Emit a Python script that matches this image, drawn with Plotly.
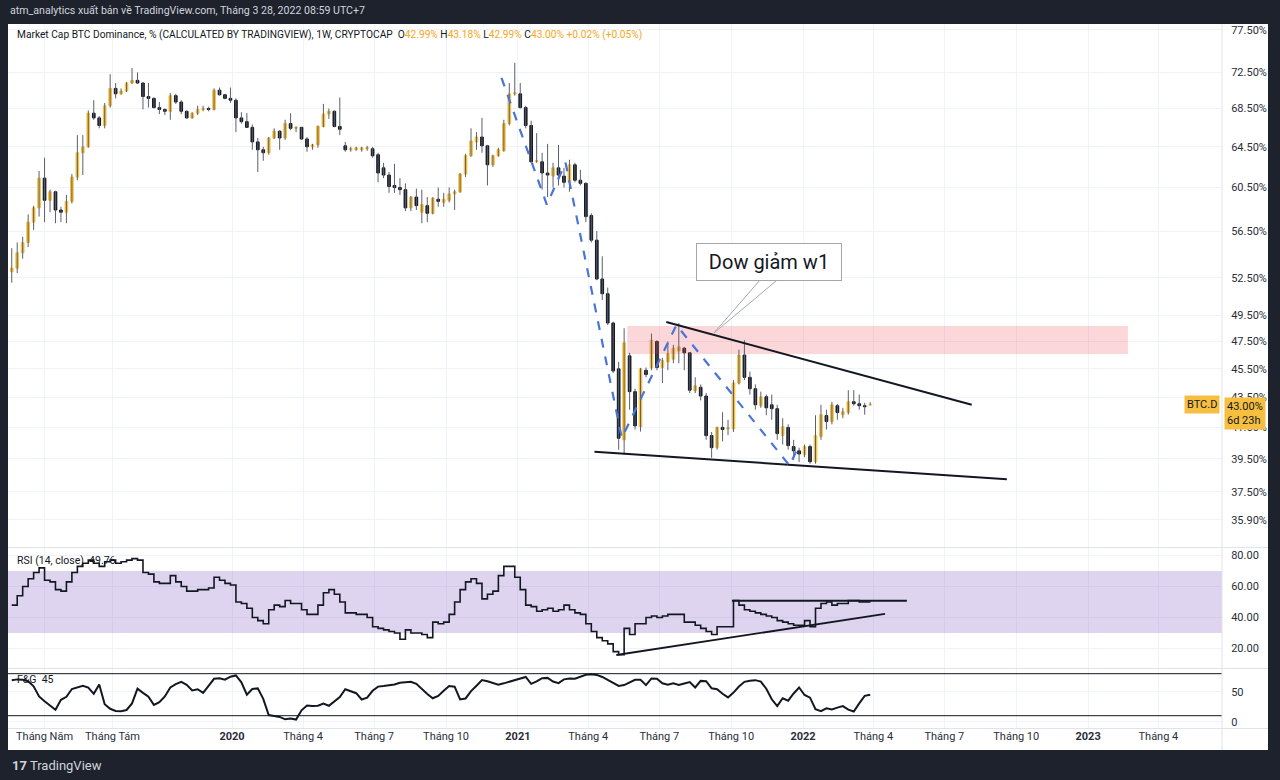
import math
import pandas as pd
import plotly.graph_objects as go
from plotly.subplots import make_subplots

# ---------------- data (weekly BTC.D candles) ----------------
first_week = "2019-03-25"

open_ = [53.0, 53.3, 54.6, 55.5, 57.3, 58.6, 61.4, 59.3, 60.1, 58.4,
         58.2, 59.2, 61.5, 63.9, 64.5, 68.0, 67.5, 66.7, 68.8, 70.7,
         70.1, 70.4, 71.3, 71.6, 71.3, 69.8, 69.6, 68.6, 68.4, 68.2,
         69.9, 69.2, 68.2, 67.5, 68.0, 68.4, 68.5, 68.4, 70.5, 70.0,
         69.6, 69.4, 67.5, 67.1, 66.5, 65.0, 64.2, 63.9, 65.4, 66.1,
         65.4, 66.9, 66.4, 66.5, 65.3, 64.5, 64.7, 66.6, 67.9, 68.2,
         66.6, 64.6, 64.2, 64.2, 64.2, 64.3, 64.3, 63.7, 62.4, 61.7,
         60.7, 60.5, 60.3, 58.6, 59.6, 58.2, 58.8, 58.1, 59.4, 59.1,
         59.3, 59.9, 60.1, 61.8, 63.6, 65.0, 65.5, 64.6, 62.7, 63.6,
         64.1, 66.9, 70.1, 70.1, 68.6, 66.7, 63.0, 63.0, 61.9, 61.6,
         62.4, 61.6, 61.0, 62.7, 61.2, 60.9, 57.9, 55.7, 52.4, 51.2,
         48.9, 45.5, 40.7, 46.44, 43.9, 41.55, 45.4, 45.57, 47.5, 45.6,
         46.0, 46.2, 46.8, 47.0, 46.66, 43.96, 44.2, 43.6, 40.97, 40.2,
         41.5, 41.4, 41.4, 44.5, 46.5, 44.9, 44.1, 42.94, 43.55, 43.0,
         42.74, 40.97, 41.5, 40.27, 40.0, 39.76, 40.27, 39.32, 40.91, 42.28,
         41.88, 42.94, 42.34, 42.48, 43.21, 43.07, 42.94, 42.99]

high = [55.0, 55.5, 56.0, 58.0, 58.8, 62.1, 63.4, 60.3, 60.2, 58.7,
        59.8, 61.8, 65.7, 65.7, 68.3, 69.4, 67.7, 69.1, 72.3, 71.3,
        70.7, 71.4, 73.0, 72.5, 71.4, 71.3, 69.7, 69.2, 68.5, 70.2,
        70.1, 69.4, 68.3, 68.1, 68.8, 68.8, 68.7, 70.7, 70.8, 70.1,
        70.8, 69.6, 68.1, 68.0, 66.8, 65.4, 64.5, 65.5, 66.4, 66.2,
        67.3, 68.0, 66.6, 66.5, 65.5, 64.8, 66.7, 69.0, 68.5, 68.3,
        69.7, 65.0, 64.5, 64.5, 64.5, 64.6, 64.5, 63.9, 62.9, 62.0,
        62.8, 61.4, 60.9, 59.7, 60.4, 60.3, 59.6, 59.6, 60.5, 60.0,
        60.5, 60.3, 61.9, 63.8, 66.4, 66.0, 67.5, 64.7, 63.7, 64.4,
        67.3, 71.3, 73.6, 71.3, 68.8, 67.2, 65.9, 63.9, 64.8, 62.9,
        64.7, 62.4, 63.2, 62.9, 62.2, 61.0, 58.1, 56.5, 54.3, 51.7,
        49.0, 46.0, 48.5, 46.66, 44.1, 45.57, 45.6, 48.1, 47.6, 46.3,
        47.5, 47.25, 48.9, 47.1, 46.7, 44.9, 44.4, 43.8, 41.2, 41.55,
        42.5, 42.0, 44.7, 46.9, 47.6, 45.3, 44.4, 43.9, 43.7, 43.7,
        43.0, 42.1, 41.7, 40.7, 40.2, 40.4, 40.4, 42.3, 43.0, 42.67,
        43.2, 43.07, 42.8, 44.0, 44.0, 43.7, 43.14, 43.18]

low = [52.1, 52.9, 54.1, 55.1, 56.6, 57.8, 57.3, 58.2, 57.2, 57.3,
       57.2, 59.0, 61.2, 61.7, 64.4, 67.3, 66.4, 66.4, 68.6, 69.6,
       70.0, 70.3, 71.2, 71.2, 68.4, 68.6, 68.5, 67.9, 67.8, 67.3,
       69.0, 67.9, 67.4, 67.4, 67.8, 68.2, 68.2, 68.3, 69.9, 69.5,
       69.1, 66.0, 66.9, 66.5, 64.2, 62.0, 63.1, 63.7, 65.3, 64.2,
       65.2, 66.2, 66.0, 65.2, 64.0, 64.2, 64.4, 66.5, 67.4, 66.5,
       65.7, 64.0, 64.0, 64.1, 64.0, 64.1, 63.4, 61.0, 61.4, 60.0,
       60.0, 59.8, 58.3, 58.3, 58.4, 57.2, 57.3, 58.0, 58.7, 58.7,
       59.1, 58.4, 60.0, 61.5, 63.5, 64.2, 63.9, 60.7, 62.5, 63.5,
       64.0, 66.7, 69.9, 68.5, 66.4, 62.9, 62.9, 60.3, 59.6, 60.5,
       60.7, 60.5, 60.1, 61.0, 60.7, 57.3, 55.5, 52.3, 50.7, 48.75,
       45.2, 40.07, 39.76, 42.67, 41.36, 41.23, 44.9, 45.4, 45.4, 44.5,
       45.4, 45.9, 45.9, 45.4, 43.8, 43.8, 43.3, 40.7, 39.57, 40.07,
       40.6, 41.0, 41.2, 44.4, 44.7, 43.7, 42.67, 42.8, 42.3, 42.0,
       40.7, 40.4, 40.07, 39.45, 39.3, 39.6, 39.2, 39.2, 40.7, 41.36,
       41.7, 42.0, 42.1, 42.34, 42.94, 42.67, 42.34, 42.99]

close = [53.3, 54.6, 55.5, 57.3, 58.6, 61.4, 59.3, 60.1, 58.4, 58.2,
         59.2, 61.5, 63.9, 64.5, 68.0, 67.5, 66.7, 68.8, 70.7, 70.1,
         70.4, 71.3, 71.6, 71.3, 69.8, 69.6, 68.6, 68.4, 68.2, 69.9,
         69.2, 68.2, 67.5, 68.0, 68.4, 68.5, 68.4, 70.5, 70.0, 69.6,
         69.4, 67.5, 67.1, 66.5, 65.0, 64.2, 63.9, 65.4, 66.1, 65.4,
         66.9, 66.4, 66.5, 65.3, 64.5, 64.7, 66.6, 67.9, 68.2, 66.6,
         66.3, 64.2, 64.3, 64.4, 64.4, 64.4, 63.6, 61.9, 61.7, 60.6,
         60.5, 60.3, 58.6, 59.6, 58.8, 58.9, 58.1, 59.5, 59.2, 59.4,
         59.9, 60.1, 61.8, 63.6, 65.1, 65.5, 64.6, 62.7, 63.6, 64.2,
         66.9, 70.1, 70.2, 68.6, 66.7, 63.0, 63.1, 61.9, 61.7, 62.4,
         61.7, 61.0, 62.7, 61.2, 60.9, 57.8, 55.7, 52.4, 51.2, 48.9,
         45.35, 40.8, 47.4, 43.9, 41.6, 45.5, 45.1, 47.6, 45.6, 46.1,
         46.6, 47.0, 47.1, 46.66, 44.0, 44.3, 43.6, 40.97, 40.2, 41.5,
         41.36, 41.45, 44.5, 46.5, 44.9, 44.1, 43.0, 43.55, 42.8, 42.74,
         41.1, 41.55, 40.33, 40.0, 39.8, 40.27, 39.32, 40.97, 42.34, 41.88,
         43.0, 42.48, 42.54, 43.21, 43.07, 42.94, 42.88, 43.00]

rsi = [48, 54, 60, 65, 69, 72, 64, 63, 58, 57,
       63, 69, 73, 75, 77, 75, 73, 76, 77, 75,
       76, 77, 78, 77, 69, 68, 63, 62, 62, 67,
       63, 60, 57, 57, 58, 58, 59, 66, 64, 62,
       61, 50, 49, 46, 40, 38, 36, 45, 48, 47,
       51, 49, 49, 45, 42, 42, 48, 56, 58, 55,
       50, 43, 43, 42, 42, 40, 34, 33, 32, 31,
       30, 26, 32, 30, 30, 29, 27, 37, 36, 37,
       42, 50, 58, 63, 65, 62, 52, 55, 57, 67,
       73, 73, 66, 58, 48, 47, 44, 45, 46, 44,
       45, 48, 45, 43, 42, 36, 31, 27, 25, 23,
       18, 16, 33, 29, 36, 36, 40, 41, 40, 41,
       42, 42, 42, 37, 37, 35, 33, 31, 29, 34,
       34, 34, 51, 48, 45, 44, 43, 42, 41, 40,
       38, 37, 36, 35, 35, 38, 34, 46, 49, 50,
       48, 49, 49, 51, 51, 50, 50, 49.76]

fear_greed = [69, 70.5, 70, 67.5, 59, 42, 34, 27, 20, 36.5,
              41.5, 54.5, 57.5, 60, 57, 46.5, 62, 29, 21.5, 18,
              17.5, 19.5, 30.5, 55, 48, 41.7, 28, 32.5, 42, 57,
              62.5, 66.5, 61.5, 52, 54, 48, 59.5, 71.5, 72.5, 70,
              75, 77, 65.5, 45, 54.5, 55.5, 38, 11, 9.5, 8,
              4, 5.5, 3.5, 19, 27, 26, 26.5, 30, 26.5, 33,
              41, 54, 50.5, 47.5, 37, 40, 51.5, 58.5, 59.5, 60.5,
              62, 65, 65.8, 66.5, 63, 54, 46, 39, 43, 51.5,
              59.5, 58.3, 37, 38.7, 51, 60, 69.3, 67.5, 64, 61.8,
              63.9, 66.5, 69, 72, 74.5, 63, 67, 72.5, 73, 67,
              64.3, 70.5, 72, 71.5, 75.3, 78.2, 78.9, 78, 74.5, 70,
              65, 59.7, 61, 65.5, 69.8, 70, 61, 72, 71.5, 64,
              61.5, 63.8, 61.2, 63.7, 66, 57, 68, 67.5, 55.6, 54.2,
              46.5, 40.5, 48.5, 58.7, 66.4, 68.3, 69.2, 66.7, 55, 37.3,
              26, 39, 35, 47, 57, 44.5, 40, 21, 17.5, 22.2,
              20.4, 23.5, 26, 20, 17, 30.6, 43, 45]

# drawings on the chart
zone_x = ["2021-05-21", "2023-02-21"]
zone_y = [46.58, 48.67]
resist_x = ["2021-07-10", "2022-08-05"]
resist_y = [48.97, 43.0]
support_x = ["2021-04-09", "2022-09-19"]
support_y = [39.94, 38.26]
wave_x = ["2020-12-11", "2021-02-07", "2021-03-03", "2021-05-14",
          "2021-07-23", "2021-12-15", "2021-12-24"]
wave_y = [71.87, 58.9, 62.9, 40.82, 48.75, 39.07, 40.06]
tail_x = ["2021-11-07", "2021-09-09", "2021-11-29"]
tail_y = [52.32, 48.14, 52.32]
callout_x = "2021-11-19"
callout_y = 53.85
callout_text = "Dow giảm w1"
rsi_flat_x = ["2021-10-02", "2022-05-14"]
rsi_flat_y = [50.8, 50.8]
rsi_rise_x = ["2021-05-07", "2022-04-16"]
rsi_rise_y = [15.8, 42.3]
rsi_band = [30, 70]
fg_levels = [80, 10]

# axes
x_range = ["2019-03-20 05:00", "2023-06-21 10:00"]
tick_dates = ["2019-05-06", "2019-08-01", "2020-01-01", "2020-04-01", "2020-07-01",
              "2020-10-01", "2021-01-01", "2021-04-01", "2021-07-01", "2021-10-01",
              "2022-01-01", "2022-04-01", "2022-07-01", "2022-10-01", "2023-01-01",
              "2023-04-01"]
tick_labels = ["Tháng Năm", "Tháng Tám", "<b>2020</b>", "Tháng 4", "Tháng 7", "Tháng 10",
               "<b>2021</b>", "Tháng 4", "Tháng 7", "Tháng 10", "<b>2022</b>", "Tháng 4",
               "Tháng 7", "Tháng 10", "<b>2023</b>", "Tháng 4"]
price_ticks = [35.9, 37.5, 39.5, 41.5, 43.5, 45.5, 47.5, 49.5, 52.5, 56.5,
               60.5, 64.5, 68.5, 72.5, 77.5]
price_range = [34.39, 78.23]
rsi_ticks = [20, 40, 60, 80]
rsi_range = [7.42, 84.84]
fg_ticks = [0, 50]
fg_range = [-10.5, 87.8]

header_text = "atm_analytics xuất bản về TradingView.com, Tháng 3 28, 2022 08:59 UTC+7"
legend_title = "Market Cap BTC Dominance, % (CALCULATED BY TRADINGVIEW), 1W, CRYPTOCAP"
change_text = "+0.02% (+0.05%)"
countdown = "6d 23h"

n = len(close)
assert len(open_) == n and len(high) == n and len(low) == n and len(rsi) == n and len(fear_greed) == n
dates = pd.date_range(first_week, periods=n, freq="7D")

UP = "#f6bf3f"
DOWN = "#131722"
WICK = "#5d606b"
BG = "#1e222d"
GRID = "#f0f3fa"
TXT = "#131722"
AX = "#2a2e39"
ORANGE = "#f5a623"

fig = make_subplots(rows=3, cols=1, shared_xaxes=True, vertical_spacing=0.0)

# pink zone
fig.add_trace(go.Scatter(
    x=[zone_x[0], zone_x[1], zone_x[1], zone_x[0], zone_x[0]],
    y=[zone_y[0], zone_y[0], zone_y[1], zone_y[1], zone_y[0]],
    mode="lines", fill="toself", fillcolor="rgba(242,54,69,0.2)",
    line=dict(width=0), hoverinfo="skip"), row=1, col=1)

# wicks
wx, wy = [], []
for d, h, l in zip(dates, high, low):
    wx += [d, d, None]
    wy += [l, h, None]
fig.add_trace(go.Scatter(x=wx, y=wy, mode="lines", line=dict(color=WICK, width=1),
                         hoverinfo="skip"), row=1, col=1)

# bodies
body_hi = [max(o, c) for o, c in zip(open_, close)]
body_lo = [min(o, c) for o, c in zip(open_, close)]
fig.add_trace(go.Candlestick(
    x=dates, open=open_, high=body_hi, low=body_lo, close=close,
    increasing=dict(fillcolor=UP, line=dict(color=UP, width=1)),
    decreasing=dict(fillcolor=DOWN, line=dict(color=DOWN, width=1)),
    whiskerwidth=0, hoverinfo="skip"), row=1, col=1)

# trend lines
fig.add_trace(go.Scatter(x=resist_x, y=resist_y, mode="lines",
                         line=dict(color="#131722", width=2), hoverinfo="skip"), row=1, col=1)
fig.add_trace(go.Scatter(x=support_x, y=support_y, mode="lines",
                         line=dict(color="#131722", width=2), hoverinfo="skip"), row=1, col=1)
# dow wave dashed
fig.add_trace(go.Scatter(x=wave_x, y=wave_y, mode="lines",
                         line=dict(color="#4a74d8", width=2.2, dash="dash"),
                         hoverinfo="skip"), row=1, col=1)
# callout tail
fig.add_trace(go.Scatter(x=tail_x, y=tail_y, mode="lines", fill="toself",
                         fillcolor="white", line=dict(color="#a3a6af", width=1),
                         hoverinfo="skip"), row=1, col=1)

# RSI pane
fig.add_trace(go.Scatter(
    x=[x_range[0], x_range[1], x_range[1], x_range[0], x_range[0]],
    y=[rsi_band[0], rsi_band[0], rsi_band[1], rsi_band[1], rsi_band[0]],
    mode="lines", fill="toself", fillcolor="rgba(126,87,194,0.26)",
    line=dict(width=0), hoverinfo="skip"), row=2, col=1)
fig.add_trace(go.Scatter(x=dates, y=rsi, mode="lines", line_shape="hv",
                         line=dict(color="#131722", width=1.6), hoverinfo="skip"), row=2, col=1)
fig.add_trace(go.Scatter(x=rsi_flat_x, y=rsi_flat_y, mode="lines",
                         line=dict(color="#131722", width=1.8), hoverinfo="skip"), row=2, col=1)
fig.add_trace(go.Scatter(x=rsi_rise_x, y=rsi_rise_y, mode="lines",
                         line=dict(color="#131722", width=1.8), hoverinfo="skip"), row=2, col=1)

# F&G pane
for lvl in fg_levels:
    fig.add_trace(go.Scatter(x=x_range, y=[lvl, lvl], mode="lines",
                             line=dict(color="#131722", width=1), hoverinfo="skip"), row=3, col=1)
fig.add_trace(go.Scatter(x=dates, y=fear_greed, mode="lines",
                         line=dict(color="#131722", width=2), hoverinfo="skip"), row=3, col=1)

# ---------------- layout ----------------
L, R, T, B = 8, 58, 24, 52
W, H = 1280, 780
pw, ph = W - L - R, H - T - B


def py(px):  # pixel y (from top) -> paper y
    return (H - B - px) / ph


def pxp(px):  # pixel x -> paper x
    return (px - L) / pw


fig.update_layout(
    width=W, height=H, margin=dict(l=L, r=R, t=T, b=B),
    paper_bgcolor=BG, plot_bgcolor="white", showlegend=False,
    font=dict(family="Roboto", size=11, color=TXT),
    yaxis=dict(domain=[py(547), 1.0]),
    yaxis2=dict(domain=[py(668), py(548)]),
    yaxis3=dict(domain=[0.0, py(669)]),
)

fig.update_xaxes(range=x_range, tickmode="array", tickvals=tick_dates, ticktext=tick_labels,
                 showgrid=True, gridcolor=GRID, gridwidth=1, zeroline=False, showline=False,
                 rangeslider_visible=False, ticks="", tickfont=dict(size=11, color=AX))
fig.update_xaxes(showticklabels=False, row=1, col=1)
fig.update_xaxes(showticklabels=False, row=2, col=1)

common_y = dict(side="right", showgrid=True, gridcolor=GRID, zeroline=False, showline=False,
                ticks="outside", ticklen=6, tickcolor="rgba(0,0,0,0)",
                tickfont=dict(size=11, color=AX), fixedrange=True)
fig.update_yaxes(type="log", range=[math.log10(price_range[0]), math.log10(price_range[1])],
                 tickmode="array", tickvals=price_ticks,
                 ticktext=[f"{v:.2f}%" for v in price_ticks], row=1, col=1, **common_y)
fig.update_yaxes(range=rsi_range, tickmode="array", tickvals=rsi_ticks,
                 ticktext=[f"{v:.2f}" for v in rsi_ticks], row=2, col=1, **common_y)
fig.update_yaxes(range=fg_range, tickmode="array", tickvals=fg_ticks,
                 ticktext=[str(v) for v in fg_ticks], row=3, col=1, **common_y)

panel_right = pxp(1268)
shapes = [
    dict(type="rect", xref="paper", yref="paper", x0=0, x1=panel_right, y0=py(750), y1=1.0,
         fillcolor="white", line=dict(width=0), layer="below"),
    dict(type="line", xref="paper", yref="paper", x0=0, x1=panel_right, y0=py(547.5), y1=py(547.5),
         line=dict(color="#e0e3eb", width=1)),
    dict(type="line", xref="paper", yref="paper", x0=0, x1=panel_right, y0=py(668.5), y1=py(668.5),
         line=dict(color="#e0e3eb", width=1)),
    dict(type="line", xref="paper", yref="paper", x0=0, x1=panel_right, y0=py(728.5), y1=py(728.5),
         line=dict(color="#e0e3eb", width=1)),
    dict(type="line", xref="paper", yref="paper", x0=1.0, x1=1.0, y0=py(750), y1=1.0,
         line=dict(color="#e0e3eb", width=1)),
]
fig.update_layout(shapes=shapes)

sp = "\u00a0"
ohlc = (f"O<span style='color:{ORANGE}'>{open_[-1]:.2f}%</span>{sp}"
        f"H<span style='color:{ORANGE}'>{high[-1]:.2f}%</span>{sp}"
        f"L<span style='color:{ORANGE}'>{low[-1]:.2f}%</span>{sp}"
        f"C<span style='color:{ORANGE}'>{close[-1]:.2f}%</span>{sp}"
        f"<span style='color:{ORANGE}'>{change_text}</span>")

last_log = math.log10(close[-1])
annotations = [
    dict(text=header_text, xref="paper", yref="paper", x=0.0, y=py(11), xanchor="left",
         yanchor="middle", showarrow=False, font=dict(size=10.6, color="#d1d4dc")),
    dict(text=legend_title + sp + sp + ohlc, xref="paper", yref="paper", x=pxp(15), y=py(35),
         xanchor="left", yanchor="middle", showarrow=False, font=dict(size=10.2, color=TXT)),
    dict(text=f"RSI (14, close){sp}{sp}{rsi[-1]:.2f}", xref="paper", yref="paper", x=pxp(15),
         y=py(560), xanchor="left", yanchor="middle", showarrow=False,
         font=dict(size=10.5, color=TXT)),
    dict(text=f"F&amp;G{sp}{sp}{fear_greed[-1]:.0f}", xref="paper", yref="paper", x=pxp(15),
         y=py(679), xanchor="left", yanchor="middle", showarrow=False,
         font=dict(size=10.5, color=TXT)),
    dict(text="<b>17</b> TradingView", xref="paper", yref="paper", x=pxp(10), y=py(765),
         xanchor="left", yanchor="middle", showarrow=False,
         font=dict(size=13, color="#d1d4dc")),
    dict(text=f"{close[-1]:.2f}%<br>{countdown}", xref="paper", yref="y",
         x=1.0 + 2 / pw, y=last_log + 8 / 1465, xanchor="left", yanchor="top",
         showarrow=False, bgcolor=UP, borderpad=2, align="left",
         font=dict(size=11, color=TXT)),
    dict(text="BTC.D", xref="paper", yref="y", x=pxp(1220), y=last_log,
         xanchor="right", yanchor="middle", showarrow=False, bgcolor=UP, borderpad=2,
         font=dict(size=11, color=TXT)),
    dict(text=callout_text, xref="x", yref="y", x=callout_x, y=math.log10(callout_y),
         xanchor="center", yanchor="middle", showarrow=False, bgcolor="white",
         bordercolor="#a3a6af", borderwidth=1, borderpad=7, width=130, height=22,
         font=dict(size=20, color=TXT)),
]
fig.update_layout(annotations=annotations)

page_js = ("document.documentElement.style.background='#1e222d';"
           "document.body.style.margin='0';document.body.style.padding='0';"
           "document.body.style.background='#1e222d';document.body.style.overflow='hidden';")
fig.write_html("out.html", config={"displayModeBar": False}, post_script=page_js)
